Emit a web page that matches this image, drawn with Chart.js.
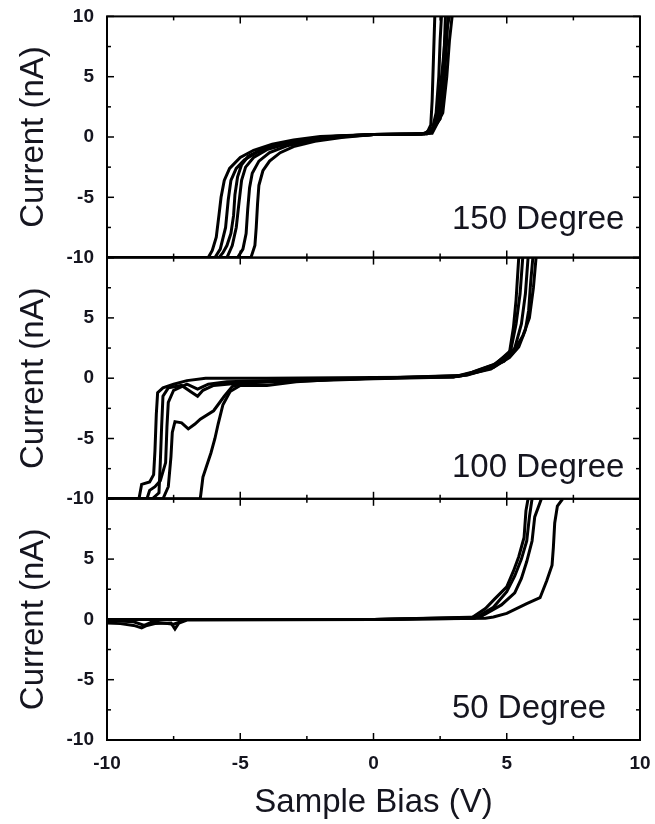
<!DOCTYPE html>
<html><head><meta charset="utf-8">
<script src="https://cdn.jsdelivr.net/npm/chart.js@4.4.1/dist/chart.umd.min.js"></script>
<style>html,body{margin:0;padding:0;background:#fff;}canvas{display:block;}</style>
</head><body>
<canvas id="c" width="655" height="824"></canvas>
<script>
// ---- text / ticks ----
const xTickValues = [-10, -5, 0, 5, 10];
const yTickValues = [-10, -5, 0, 5, 10];
const panelLabels = ['150 Degree', '100 Degree', '50 Degree'];
const xTitle = 'Sample Bias (V)';
const yTitle = 'Current (nA)';

// ---- 150 Degree sweeps [bias V, current nA] ----
const t150_a = [[-10,-10],[-6.2,-10],[-6.05,-9.4],[-5.9,-8.3],[-5.8,-6.5],[-5.72,-5],[-5.6,-3.6],[-5.4,-2.6],[-5.0,-1.7],[-4.5,-1.1],[-3.8,-0.6],[-3.0,-0.25],[-2.0,0.05],[0,0.2],[1.5,0.22],[2.0,0.3],[2.15,1.0],[2.2,3.0],[2.25,6.5],[2.3,10]];
const t150_b = [[-10,-10],[-5.95,-10],[-5.75,-9.3],[-5.55,-7.5],[-5.45,-5.2],[-5.35,-3.6],[-5.15,-2.6],[-4.85,-1.9],[-4.4,-1.3],[-3.7,-0.75],[-2.9,-0.35],[-1.9,0],[0,0.2],[1.8,0.22],[2.2,0.6],[2.35,2.0],[2.45,5.0],[2.5,8.0],[2.55,10]];
const t150_c = [[-10,-10],[-5.5,-10],[-5.3,-9.0],[-5.15,-7.5],[-5.05,-5.5],[-4.95,-3.6],[-4.8,-2.5],[-4.5,-1.7],[-4.0,-1.05],[-3.3,-0.6],[-2.5,-0.25],[-1.5,0.05],[0,0.2],[2.0,0.25],[2.4,1.2],[2.55,4.0],[2.65,7.0],[2.7,10]];
const t150_d = [[-10,-10],[-5.1,-10],[-4.9,-9.3],[-4.78,-8.0],[-4.72,-6.0],[-4.65,-4.2],[-4.55,-3.0],[-4.3,-2.0],[-3.9,-1.3],[-3.2,-0.7],[-2.4,-0.3],[-1.3,0],[0,0.2],[2.1,0.3],[2.5,1.5],[2.65,4.5],[2.75,8.0],[2.8,10]];
const t150_e = [[-10,-10],[-4.6,-10],[-4.45,-9.0],[-4.4,-7.5],[-4.35,-5.5],[-4.3,-4.0],[-4.15,-2.8],[-3.9,-2.0],[-3.5,-1.3],[-3.0,-0.8],[-2.2,-0.35],[-1.2,-0.05],[0,0.2],[2.2,0.3],[2.6,2.0],[2.75,5.0],[2.85,8.0],[2.95,10]];
const t150_f = [[-10,-10],[-5.8,-10],[-5.65,-9.6],[-5.5,-9.0],[-5.35,-8.0],[-5.25,-6.5],[-5.2,-4.8],[-5.1,-3.3],[-4.95,-2.3],[-4.7,-1.6],[-4.2,-1.05],[-3.5,-0.55],[-2.6,-0.2],[-1.6,0.05],[0,0.2],[1.9,0.25],[2.3,0.9],[2.45,3.0],[2.6,6.0],[2.7,8.5],[2.85,10]];

// ---- 100 Degree sweeps ----
const t100_a = [[-10,-10],[-8.8,-10],[-8.7,-8.8],[-8.4,-8.6],[-8.25,-8.0],[-8.2,-6.0],[-8.15,-3.0],[-8.1,-1.2],[-7.9,-0.8],[-7.5,-0.5],[-7.0,-0.2],[-6.3,0],[-4.0,0],[0,0.05],[3.0,0.1],[3.6,0.4],[4.5,1.1],[5.1,2.1],[5.25,4.2],[5.35,6.5],[5.45,10]];
const t100_b = [[-10,-10],[-8.3,-10],[-8.05,-9.5],[-8.0,-7.0],[-7.95,-4.0],[-7.9,-1.5],[-7.7,-0.8],[-7.2,-0.6],[-6.8,-1.2],[-6.6,-1.5],[-6.4,-1.0],[-6.0,-0.6],[-5.0,-0.4],[-3.0,-0.25],[0,-0.05],[3.0,0.1],[3.7,0.5],[4.6,1.2],[5.15,2.3],[5.35,4.5],[5.5,7.0],[5.6,10]];
const t100_c = [[-10,-10],[-7.9,-10],[-7.7,-9.0],[-7.6,-6.5],[-7.55,-4.5],[-7.45,-3.6],[-7.2,-3.7],[-6.95,-4.2],[-6.7,-3.8],[-6.5,-3.4],[-6.0,-2.7],[-5.6,-1.5],[-5.3,-0.7],[-4.8,-0.35],[-3.0,-0.2],[0,0],[3.2,0.15],[4.0,0.6],[4.9,1.4],[5.3,2.5],[5.55,4.5],[5.7,7.0],[5.8,10]];
const t100_d = [[-10,-10],[-6.5,-10],[-6.4,-8.2],[-6.25,-7.2],[-6.1,-6.2],[-5.95,-5.0],[-5.83,-3.8],[-5.65,-2.2],[-5.38,-1.1],[-5.0,-0.6],[-4.0,-0.6],[-2.9,-0.3],[-1.5,-0.1],[0,0],[3.3,0.2],[4.4,0.75],[5.1,1.7],[5.45,2.6],[5.7,4.0],[5.82,5.6],[5.9,8.0],[5.98,10]];
const t100_e = [[-10,-10],[-8.5,-10],[-8.4,-9.3],[-8.2,-9.0],[-8.0,-8.5],[-7.8,-7.0],[-7.75,-4.0],[-7.7,-2.0],[-7.5,-1.0],[-7.0,-0.5],[-6.6,-0.9],[-6.2,-0.5],[-5.5,-0.3],[-3.0,-0.15],[0,0],[3.5,0.25],[4.5,0.9],[5.2,2.0],[5.6,3.5],[5.85,5.0],[6.0,7.5],[6.1,10]];

// ---- 50 Degree sweeps ----
const t50_a = [[-10,-0.3],[-9.5,-0.35],[-9.0,-0.5],[-8.7,-0.7],[-8.5,-0.5],[-8.2,-0.35],[-7.6,-0.3],[-7.45,-0.8],[-7.3,-0.3],[-7.0,-0.05],[0,0],[3.7,0.15],[4.2,0.9],[4.55,1.7],[5.0,2.7],[5.25,4.0],[5.45,5.2],[5.65,6.8],[5.72,9.0],[5.8,10]];
const t50_b = [[-10,-0.1],[-9.0,-0.2],[-8.6,-0.5],[-8.3,-0.2],[-7.5,-0.4],[-7.0,0],[0,0],[3.8,0.1],[4.5,1.0],[5.0,2.3],[5.3,3.6],[5.55,5.0],[5.75,6.5],[5.85,8.5],[5.95,10]];
const t50_c = [[-10,0],[0,0],[4.0,0.2],[4.8,1.2],[5.3,2.2],[5.55,3.4],[5.75,4.8],[5.95,6.5],[6.05,8.5],[6.3,10]];
const t50_d = [[-10,0],[0,0],[4.2,0.1],[4.5,0.2],[5.0,0.5],[5.75,1.3],[6.25,1.8],[6.5,3.2],[6.7,4.5],[6.75,6.0],[6.8,8.0],[6.9,9.4],[7.1,10]];

const panels = [
  { axis: 'yTop', curves: [t150_a, t150_b, t150_c, t150_d, t150_e, t150_f] },
  { axis: 'yMid', curves: [t100_a, t100_b, t100_c, t100_d, t100_e] },
  { axis: 'yBot', curves: [t50_a, t50_b, t50_c, t50_d] }
];

const datasets = [];
panels.forEach(p => p.curves.forEach(c => datasets.push({
  data: c, yAxisID: p.axis, xAxisID: 'x', showLine: true, pointRadius: 0,
  borderColor: '#000', borderWidth: 3, tension: 0, fill: false
})));

const tickFont = { family: '"Liberation Sans", Arial, sans-serif', size: 19, weight: 'bold' };
const textColor = '#15151f';

function yScale(hideTop) {
  return {
    type: 'linear', position: 'left', stack: 'panels', stackWeight: 1,
    min: -10, max: 10,
    afterBuildTicks: s => { s.ticks = yTickValues.map(v => ({ value: v })); },
    ticks: {
      font: tickFont, color: textColor, padding: 5,
      callback: v => (hideTop && v === 10) ? '' : String(v)
    },
    grid: { display: false }, border: { display: false },
    afterFit: s => { s.width = 107; }
  };
}

const framePlugin = {
  id: 'frame',
  afterDatasetsDraw(chart) {
    const ctx = chart.ctx, xs = chart.scales.x;
    const line = (a, b, c, d) => { ctx.beginPath(); ctx.moveTo(a, b); ctx.lineTo(c, d); ctx.stroke(); };
    panels.forEach(p => {
      const ys = chart.scales[p.axis];
      const L = xs.left, R = xs.right, T = ys.top, B = ys.bottom;
      ctx.save();
      ctx.strokeStyle = '#000';
      ctx.lineWidth = 2;
      ctx.strokeRect(L, T, R - L, B - T);
      ctx.lineWidth = 1.5;
      for (let v = -10; v <= 10; v += 2.5) {
        const len = (v % 5 === 0) ? 7 : 4;
        const px = xs.getPixelForValue(v), py = ys.getPixelForValue(v);
        line(px, B, px, B - len); line(px, T, px, T + len);
        line(L, py, L + len, py); line(R, py, R - len, py);
      }
      ctx.restore();
    });
  }
};

const textPlugin = {
  id: 'texts',
  afterDraw(chart) {
    const ctx = chart.ctx, xs = chart.scales.x;
    const offs = [29, 22, 22];
    ctx.save();
    ctx.fillStyle = textColor;
    ctx.font = '33px "Liberation Sans", Arial, sans-serif';
    panels.forEach((p, i) => {
      const ys = chart.scales[p.axis];
      ctx.textAlign = 'left'; ctx.textBaseline = 'alphabetic';
      ctx.fillText(panelLabels[i], 452, ys.bottom - offs[i]);
      ctx.save();
      ctx.translate(43, (ys.top + ys.bottom) / 2);
      ctx.rotate(-Math.PI / 2);
      ctx.textAlign = 'center';
      ctx.fillText(yTitle, 0, 0);
      ctx.restore();
    });
    ctx.textAlign = 'center'; ctx.textBaseline = 'alphabetic';
    ctx.fillText(xTitle, (xs.left + xs.right) / 2, 812);
    ctx.restore();
  }
};

new Chart(document.getElementById('c'), {
  type: 'scatter',
  data: { datasets },
  options: {
    responsive: false, animation: false, devicePixelRatio: 1,
    layout: { padding: { left: 0, right: 15, top: 14, bottom: 0 } },
    scales: {
      x: {
        type: 'linear', position: 'bottom', min: -10, max: 10,
        afterBuildTicks: s => { s.ticks = xTickValues.map(v => ({ value: v })); },
        ticks: { font: tickFont, color: textColor, padding: 4, maxRotation: 0, autoSkip: false },
        grid: { display: false }, border: { display: false },
        afterFit: s => { s.height = 84; }
      },
      // stacked left axes: Chart.js places the last-declared one at the top
      yBot: yScale(true),
      yMid: yScale(true),
      yTop: yScale(false)
    },
    plugins: { legend: { display: false }, tooltip: { enabled: false } }
  },
  plugins: [framePlugin, textPlugin]
});
</script>
</body></html>
